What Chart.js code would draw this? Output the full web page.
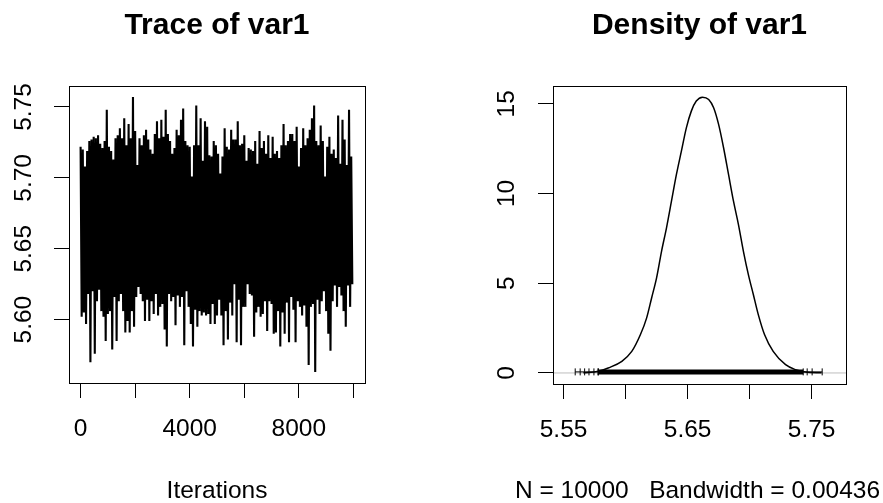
<!DOCTYPE html>
<html><head><meta charset="utf-8">
<script src="https://cdn.jsdelivr.net/npm/chart.js@4/dist/chart.umd.min.js"></script>
<style>
html,body{margin:0;padding:0;background:#fff;}
#wrap{position:relative;width:883px;height:503px;background:#fff;overflow:hidden;}
canvas{position:absolute;top:0;}
#c1{left:0;} #c2{left:441px;}
</style></head><body>
<div id="wrap"><canvas id="c1" width="441" height="503"></canvas><canvas id="c2" width="442" height="503"></canvas></div>
<script>
// ---- Trace of var1 (envelope, one high/low pair per 80 iterations)
const traceStep = 80;
const traceHigh = [5.722,5.720,5.708,5.719,5.726,5.727,5.729,5.728,5.730,5.724,5.721,5.726,5.748,5.722,5.719,5.713,5.728,5.730,5.735,5.728,5.742,5.723,5.738,5.728,5.757,5.733,5.709,5.728,5.723,5.730,5.734,5.727,5.720,5.717,5.731,5.740,5.728,5.741,5.729,5.748,5.731,5.726,
5.717,5.721,5.734,5.730,5.741,5.749,5.726,5.723,5.722,5.701,5.723,5.751,5.723,5.742,5.712,5.740,5.736,5.716,5.715,5.726,5.723,5.717,5.703,5.715,5.735,5.722,5.720,5.734,5.727,5.727,5.740,5.723,5.724,5.730,5.712,5.721,5.720,5.719,5.726,5.710,5.733,5.721,5.726,
5.717,5.730,5.714,5.729,5.717,5.719,5.714,5.723,5.738,5.723,5.726,5.731,5.731,5.726,5.736,5.708,5.721,5.735,5.723,5.728,5.734,5.742,5.751,5.726,5.723,5.737,5.726,5.701,5.722,5.729,5.717,5.720,5.714,5.744,5.710,5.741,5.727,5.709,5.748,5.715];
const traceLow = [5.602,5.605,5.597,5.618,5.570,5.620,5.576,5.613,5.621,5.606,5.602,5.585,5.604,5.606,5.579,5.616,5.585,5.613,5.618,5.606,5.591,5.599,5.591,5.606,5.595,5.616,5.623,5.618,5.613,5.599,5.614,5.599,5.613,5.604,5.618,5.603,5.609,5.611,5.593,5.581,5.618,5.613,
5.616,5.596,5.617,5.609,5.616,5.582,5.620,5.609,5.597,5.581,5.607,5.595,5.606,5.603,5.605,5.603,5.604,5.597,5.611,5.597,5.603,5.614,5.603,5.582,5.606,5.586,5.612,5.603,5.625,5.584,5.614,5.582,5.609,5.609,5.625,5.618,5.617,5.588,5.605,5.609,5.602,5.604,5.613,
5.592,5.613,5.611,5.590,5.591,5.606,5.581,5.605,5.590,5.612,5.584,5.616,5.607,5.584,5.613,5.609,5.603,5.610,5.595,5.568,5.609,5.611,5.563,5.614,5.604,5.613,5.620,5.606,5.590,5.578,5.613,5.624,5.609,5.623,5.617,5.606,5.595,5.624,5.609,5.625];
const traceXTicks = [0,2000,4000,6000,8000,10000];
const traceXLabels = ['0','','4000','','8000',''];
const traceYTicks = [5.60,5.65,5.70,5.75];
const traceYLabels = ['5.60','5.65','5.70','5.75'];
const traceXRange = [-425, 10425];
const traceYRange = [5.5553, 5.7648];

// ---- Density of var1
const densX = [5.566,5.578,5.586,5.597,5.605,5.612,5.617,5.621,5.625,5.629,5.633,5.637,5.641,5.645,5.649,5.653,5.657,5.662,5.667,5.671,5.675,5.679,5.683,5.687,5.691,5.695,5.699,5.703,5.707,5.712,5.719,5.729,5.737,5.745,5.758];
const densY = [0.01,0.09,0.28,0.65,1.20,2.14,3.07,4.18,5.30,6.78,8.09,9.57,11.06,12.36,13.66,14.59,15.15,15.37,15.24,14.78,13.85,12.55,11.06,9.57,8.27,6.78,5.48,4.37,3.25,2.14,1.20,0.46,0.18,0.05,0.01];
const rugSparse = [5.5594,5.5634,5.5670,5.5705,5.5745,5.5777,5.7464,5.7504,5.7585];
const rugDense = [5.5782,5.7432];
const rugLevel = 0.06;
const densXTicks = [5.55,5.60,5.65,5.70,5.75];
const densXLabels = ['5.55','','5.65','','5.75'];
const densYTicks = [0,5,10,15];
const densYLabels = ['0','5','10','15'];
const densXRange = [5.5415, 5.7777];
const densYRange = [-0.615, 15.99];
const nObs = 10000;
const bandwidth = 0.00436;

const FAM = "'Liberation Sans', Arial, sans-serif";
const tickFont = {family: FAM, size: 24.5, lineHeight: 1.2};

const boxPlugin = {
  id: 'rbox',
  afterDatasetsDraw(chart) {
    const {ctx, chartArea: a} = chart;
    ctx.save();
    ctx.strokeStyle = '#000'; ctx.lineWidth = 1;
    const l = Math.round(a.left), t = Math.round(a.top), r = Math.round(a.right), b = Math.round(a.bottom);
    ctx.strokeRect(l + 0.5, t + 0.5, r - l, b - t);
    ctx.restore();
  }
};

function xAxis(range, ticks, labels, height, title) {
  return {
    type: 'linear', position: 'bottom', min: range[0], max: range[1], bounds: 'data',
    afterBuildTicks: s => { s.ticks = ticks.map(v => ({value: v})); },
    afterFit: s => { s.height = height; s.paddingLeft = 0; s.paddingRight = 0; },
    grid: {display: true, drawOnChartArea: false, drawTicks: true, tickLength: 15, color: '#000', lineWidth: 1},
    border: {display: false},
    ticks: {autoSkip: false, maxRotation: 0, minRotation: 0, padding: 17, color: '#000', font: tickFont,
      callback: (v, i) => labels[i]},
    title: title ? {display: true, text: title, color: '#000', font: {family: FAM, size: 24.5, lineHeight: 1}, padding: 0} : {display: false}
  };
}
function yAxis(range, ticks, labels, width, pad) {
  return {
    type: 'linear', position: 'left', min: range[0], max: range[1], bounds: 'data',
    afterBuildTicks: s => { s.ticks = ticks.map(v => ({value: v})); },
    afterFit: s => { s.width = width; s.paddingTop = 0; s.paddingBottom = 0; },
    grid: {display: true, drawOnChartArea: false, drawTicks: true, tickLength: 15, color: '#000', lineWidth: 1},
    border: {display: false},
    ticks: {autoSkip: false, minRotation: 90, maxRotation: 90, crossAlign: 'center', padding: pad, color: '#000', font: tickFont,
      callback: (v, i) => labels[i]}
  };
}
function titleOpts(text) {
  return {display: true, text, color: '#000', fullSize: false,
    font: {family: FAM, size: 30, weight: 'bold', lineHeight: 1.2},
    padding: {top: 7.8, bottom: 42.2}};
}
const common = {responsive: false, animation: false, devicePixelRatio: 1, events: []};

// Trace chart
const tracePoints = traceHigh.flatMap((h, k) => [
  {x: k * traceStep, y: h},
  {x: k * traceStep + traceStep / 2, y: traceLow[k]}
]);
new Chart(document.getElementById('c1'), {
  type: 'line',
  data: {datasets: [{data: tracePoints, borderColor: '#000', borderWidth: 2.1, pointRadius: 0, tension: 0, fill: false}]},
  options: Object.assign({}, common, {
    layout: {padding: {left: 0, right: 76, top: 0, bottom: 0}},
    plugins: {legend: {display: false}, tooltip: {enabled: false}, title: titleOpts('Trace of var1')},
    scales: {
      x: xAxis(traceXRange, traceXTicks, traceXLabels, 120, 'Iterations'),
      y: yAxis(traceYRange, traceYTicks, traceYLabels, 69, 6.2)
    }
  }),
  plugins: [boxPlugin]
});

// Density chart
const bottomLabel = {
  id: 'blabel',
  afterDraw(chart) {
    const a = chart.chartArea, ctx = chart.ctx;
    ctx.save();
    ctx.font = '24.5px ' + FAM;
    ctx.fillStyle = '#000'; ctx.textAlign = 'center'; ctx.textBaseline = 'middle';
    ctx.fillText('N = ' + nObs + '   Bandwidth = ' + bandwidth, (a.left + a.right) / 2 - 2, chart.height - 12.25);
    ctx.restore();
  }
};
const rugAll = rugSparse.concat(rugDense).sort((a, b) => a - b);
new Chart(document.getElementById('c2'), {
  type: 'line',
  data: {datasets: [
    {data: densX.map((x, i) => ({x, y: densY[i]})), borderColor: '#000', borderWidth: 1.5, pointRadius: 0,
     cubicInterpolationMode: 'monotone', fill: false, order: 0},
    {data: rugDense.map(x => ({x, y: rugLevel})), borderColor: '#000', borderWidth: 5, pointRadius: 0, fill: false, order: 1},
    {data: rugAll.map(x => ({x, y: rugLevel})), borderColor: '#000', borderWidth: 1, pointStyle: 'line', pointRotation: 90,
     pointRadius: 3.5, pointBorderColor: '#000', pointBorderWidth: 1, fill: false, order: 2},
    {data: densXRange.map(x => ({x, y: 0})), borderColor: '#bebebe', borderWidth: 1, pointRadius: 0, fill: false, order: 3}
  ]},
  options: Object.assign({}, common, {
    layout: {padding: {left: 0, right: 37, top: 0, bottom: 0}},
    plugins: {legend: {display: false}, tooltip: {enabled: false}, title: titleOpts('Density of var1')},
    scales: {
      x: xAxis(densXRange, densXTicks, densXLabels, 119, null),
      y: yAxis(densYRange, densYTicks, densYLabels, 112, 16.9)
    }
  }),
  plugins: [boxPlugin, bottomLabel]
});
</script>
</body></html>
